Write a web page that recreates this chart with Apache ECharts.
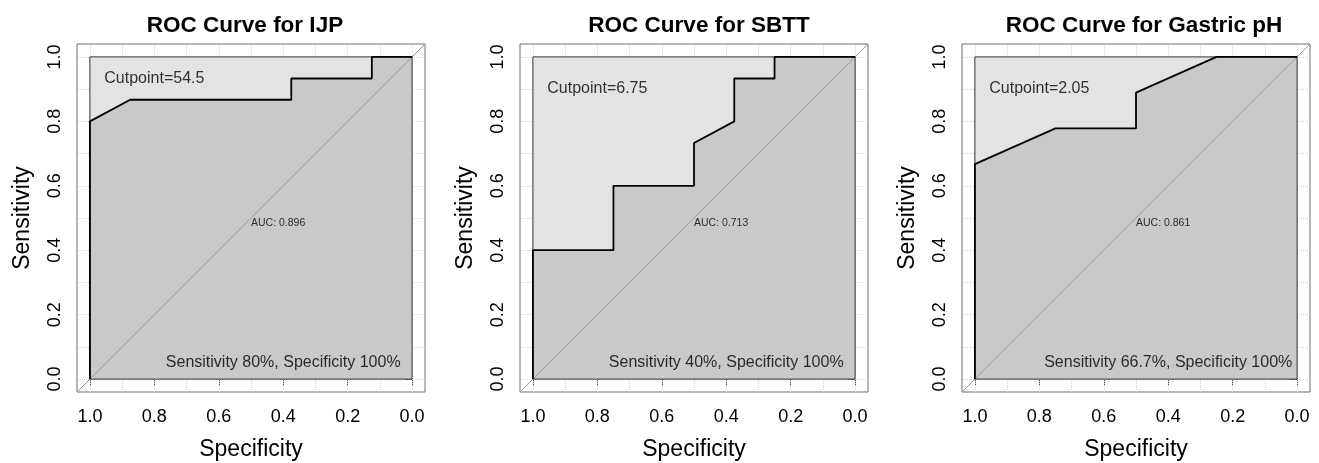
<!DOCTYPE html>
<html>
<head>
<meta charset="utf-8">
<script src="https://cdn.jsdelivr.net/npm/echarts@6/dist/echarts.min.js"></script>
<style>
  html, body { margin: 0; padding: 0; background: #fff; }
  #main { width: 1319px; height: 463px; }
</style>
</head>
<body>
<div id="main"></div>
<script>
// ROC curves: x = specificity (reversed), y = sensitivity
var titles = ['ROC Curve for IJP', 'ROC Curve for SBTT', 'ROC Curve for Gastric pH'];

var specIJP = [1, 1, 0.875, 0.375, 0.375, 0.125, 0.125, 0];
var sensIJP = [0, 0.8, 0.867, 0.867, 0.933, 0.933, 1, 1];

var specSBTT = [1, 1, 0.75, 0.75, 0.5, 0.5, 0.375, 0.375, 0.25, 0.25, 0];
var sensSBTT = [0, 0.4, 0.4, 0.6, 0.6, 0.733, 0.8, 0.933, 0.933, 1, 1];

var specPH = [1, 1, 0.75, 0.5, 0.5, 0.25, 0];
var sensPH = [0, 0.667, 0.778, 0.778, 0.889, 1, 1];

var cutpoints = ['Cutpoint=54.5', 'Cutpoint=6.75', 'Cutpoint=2.05'];
var aucs = ['AUC: 0.896', 'AUC: 0.713', 'AUC: 0.861'];
var bestTexts = ['Sensitivity 80%, Specificity 100%', 'Sensitivity 40%, Specificity 100%', 'Sensitivity 66.7%, Specificity 100%'];
var tickVals = [0, 0.2, 0.4, 0.6, 0.8, 1];
var gridVals = [0, 0.1, 0.2, 0.3, 0.4, 0.5, 0.6, 0.7, 0.8, 0.9, 1];

var specs = [specIJP, specSBTT, specPH];
var senss = [sensIJP, sensSBTT, sensPH];

var FONT = '"Liberation Sans", Arial, Helvetica, sans-serif';
var gridLeft = [77, 520, 962];
var titleCenter = [240, 694, 1139];
var cutY = [0.932, 0.902, 0.902];

function zip(a, b) {
    return a.map(function (v, i) { return [v, b[i]]; });
}

var grids = [], xAxes = [], yAxes = [], series = [], titleList = [];

for (var i = 0; i < 3; i++) {
    grids.push({
        left: gridLeft[i], top: 44, width: 348, height: 348,
        outerBoundsMode: 'none', containLabel: false,
        show: true, backgroundColor: '#fff', borderColor: '#6e6e6e', borderWidth: 1
    });
    titleList.push({
        text: titles[i], left: titleCenter[i], top: 9, textAlign: 'center',
        textStyle: { fontFamily: FONT, fontSize: 22.5, fontWeight: 'bold', color: '#000' }
    });
    xAxes.push({
        type: 'value', gridIndex: i, min: -0.04, max: 1.04, inverse: true,
        name: 'Specificity', nameLocation: 'middle', nameGap: 46,
        nameTextStyle: { fontFamily: FONT, fontSize: 23, color: '#000' },
        axisLine: { show: false },
        splitLine: { show: false },
        axisTick: { show: true, length: 7, customValues: tickVals, lineStyle: { color: '#555' } },
        axisLabel: {
            customValues: tickVals, margin: 16, fontFamily: FONT, fontSize: 18, color: '#000',
            formatter: function (v) { return v.toFixed(1); }
        }
    });
    yAxes.push({
        type: 'value', gridIndex: i, min: -0.04, max: 1.04,
        name: 'Sensitivity', nameLocation: 'middle', nameGap: 43,
        nameTextStyle: { fontFamily: FONT, fontSize: 23, color: '#000' },
        axisLine: { show: false },
        splitLine: { show: false },
        axisTick: { show: true, length: 7, customValues: tickVals, lineStyle: { color: '#555' } },
        axisLabel: {
            customValues: tickVals, margin: 13, rotate: 90, fontFamily: FONT, fontSize: 18, color: '#000',
            formatter: function (v) { return v.toFixed(1); }
        }
    });

    var pts = zip(specs[i], senss[i]);
    var lines = gridVals.map(function (v) { return { xAxis: v }; })
        .concat(gridVals.map(function (v) { return { yAxis: v }; }));

    // dotted background grid
    series.push({
        type: 'line', xAxisIndex: i, yAxisIndex: i, data: [[0, 0]], showSymbol: false, z: 1,
        silent: true, lineStyle: { width: 0 },
        markLine: {
            silent: true, symbol: 'none', z: 1, label: { show: false },
            lineStyle: { type: 'dotted', color: '#d4d4d4', width: 1 },
            data: lines
        }
    });
    // light inner box
    series.push({
        type: 'line', xAxisIndex: i, yAxisIndex: i, data: [[0, 0]], showSymbol: false, z: 2,
        silent: true, lineStyle: { width: 0 },
        markArea: {
            silent: true, z: 2, itemStyle: { color: '#e3e3e3', borderWidth: 0 },
            data: [[{ xAxis: 0, yAxis: 0 }, { xAxis: 1, yAxis: 1 }]]
        }
    });
    // area under the curve
    series.push({
        type: 'line', xAxisIndex: i, yAxisIndex: i, data: pts, showSymbol: false, z: 3,
        silent: true, lineStyle: { width: 0 },
        areaStyle: { color: '#c9c9c9', opacity: 1 }
    });
    // chance diagonal
    series.push({
        type: 'line', xAxisIndex: i, yAxisIndex: i, data: [[1.04, -0.04], [-0.04, 1.04]],
        showSymbol: false, z: 4, silent: true,
        lineStyle: { color: '#9c9c9c', width: 1 }
    });
    // inner box border
    series.push({
        type: 'line', xAxisIndex: i, yAxisIndex: i, data: [[0, 0]], showSymbol: false, z: 5,
        silent: true, lineStyle: { width: 0 },
        markArea: {
            silent: true, z: 5, itemStyle: { color: 'rgba(0,0,0,0)', borderColor: '#333', borderWidth: 1 },
            data: [[{ xAxis: 0, yAxis: 0 }, { xAxis: 1, yAxis: 1 }]]
        }
    });
    // ROC curve
    series.push({
        type: 'line', xAxisIndex: i, yAxisIndex: i, data: pts, showSymbol: false, z: 6,
        lineStyle: { color: '#000', width: 1.8 }
    });
    // annotations
    series.push({
        type: 'scatter', xAxisIndex: i, yAxisIndex: i, symbolSize: 0, z: 7, silent: true,
        label: { show: true, fontFamily: FONT, color: '#000' },
        data: [
            { value: [0.8, cutY[i]], label: { formatter: cutpoints[i], fontSize: 16, position: [0, 0], align: 'center', verticalAlign: 'middle' } },
            { value: [0.5, 0.5], label: { formatter: aucs[i], fontSize: 10.5, position: [0, 0], align: 'left', verticalAlign: 'top' } },
            { value: [0.4, 0.052], label: { formatter: bestTexts[i], fontSize: 16, position: [0, 0], align: 'center', verticalAlign: 'middle' } }
        ]
    });
}

var chart = echarts.init(document.getElementById('main'));
chart.setOption({
    animation: false,
    backgroundColor: '#fff',
    title: titleList,
    grid: grids,
    xAxis: xAxes,
    yAxis: yAxes,
    series: series
});
</script>
</body>
</html>
